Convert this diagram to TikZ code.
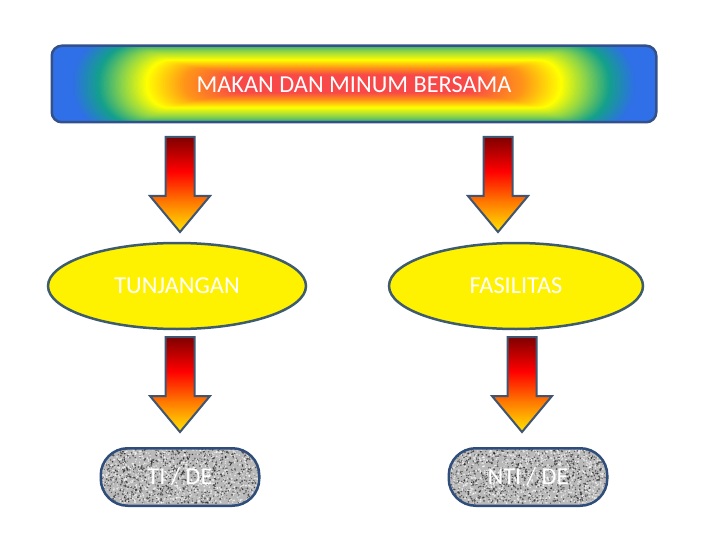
\documentclass[tikz,border=0pt]{standalone}
\usepackage{fontspec}
\setmainfont{Carlito}
\usetikzlibrary{shapes.geometric,calc}
\definecolor{barblue}{HTML}{2F6FE8}
\definecolor{barteal}{HTML}{14A08C}
\definecolor{bargreen}{HTML}{8CD44A}
\definecolor{baryellow}{HTML}{FFFF00}
\definecolor{barorange}{HTML}{FF9418}
\definecolor{barred}{HTML}{F84848}
\definecolor{barline}{HTML}{34508A}
\definecolor{arrline}{HTML}{3F5572}
\definecolor{elline}{HTML}{3E5C6E}
\definecolor{boxline}{HTML}{2F4D7A}
\pgfdeclareverticalshading{arrshade}{100bp}{%
  color(0bp)=(yellow!80!orange);
  color(25bp)=(yellow!80!orange);
  color(40bp)=(orange);
  color(57bp)=(red);
  color(75bp)=(red!50!black);
  color(100bp)=(red!50!black)}
\tikzset{
  x=1pt,y=-1pt,
  txt/.style={text=white,font=\fontsize{24.3}{28}\selectfont},
  barbox/.style={draw=barline,line width=2.5pt,rounded corners=10pt,minimum width=602pt,minimum height=74pt,inner sep=0pt},
  ellbox/.style={ellipse,draw=elline,line width=2.5pt,fill=yellow,inner sep=0pt},
  stadium/.style={draw=boxline,line width=2.5pt,rounded corners=27pt,minimum width=156pt,minimum height=55pt,inner sep=0pt},
  blockarrow/.pic={
    \shade[shading=arrshade,draw=arrline,line width=2pt,line join=miter]
      (-14.5,0) -- (14.5,0) -- (14.5,59) -- (30,59) -- (0,95) -- (-30,59) -- (-14.5,59) -- cycle;
  }
}
\newcommand{\granite}[1]{%
  \begin{scope}
    \clip[rounded corners=27pt] (#1.south west) rectangle (#1.north east);
    \fill[gray!55] (#1.south west) rectangle (#1.north east);
    \foreach \i in {1,...,1000}{%
      \pgfmathsetmacro{\rx}{rnd}\pgfmathsetmacro{\ry}{rnd}\pgfmathsetmacro{\rr}{0.5+0.6*rnd}%
      \fill[gray!20!black,opacity=0.6] ($(#1.north west)!\rx!(#1.north east) + (0,{\ry*55})$) circle (\rr pt);}
    \foreach \i in {1,...,1000}{%
      \pgfmathsetmacro{\rx}{rnd}\pgfmathsetmacro{\ry}{rnd}\pgfmathsetmacro{\rr}{0.5+0.6*rnd}%
      \fill[white,opacity=0.65] ($(#1.north west)!\rx!(#1.north east) + (0,{\ry*55})$) circle (\rr pt);}
  \end{scope}}
\begin{document}
\begin{tikzpicture}
\pgfmathsetseed{7}
\useasboundingbox (0,0) rectangle (720,540);
% top bar
\node[barbox] (top) at (354,84) {};
\begin{scope}
  \clip[rounded corners=10pt] (top.south west) rectangle (top.north east);
  \fill[barblue] (top.south west) rectangle (top.north east);
  \foreach \wa/\ha/\ca/\wb/\hb/\cb in {
      282/50/barblue/256/40/barteal,
      256/40/barteal/232/33/bargreen,
      232/33/bargreen/208/24/baryellow,
      208/24/baryellow/170/16/barorange,
      170/16/barorange/120/9/barred,
      120/9/barred/60/4/barred}{%
    \foreach \k in {0,...,19}{%
      \pgfmathsetmacro{\w}{\wa+(\wb-\wa)*\k/20}%
      \pgfmathsetmacro{\h}{\ha+(\hb-\ha)*\k/20}%
      \pgfmathsetmacro{\p}{100*\k/20}%
      \fill[\cb!\p!\ca,rounded corners=\h*0.95pt] ($(top.center)+(-\w,-\h)$) rectangle ($(top.center)+(\w,\h)$);}}
\end{scope}
\draw[barline,line width=2.5pt,rounded corners=10pt] (top.south west) rectangle (top.north east);
\node[txt] (toptxt) at (354,85) {MAKAN DAN MINUM BERSAMA};
% ellipses
\node[ellbox,minimum width=258pt,minimum height=86pt] (tun) at (177,286) {};
\node[txt] at (tun.center) {TUNJANGAN};
\node[ellbox,minimum width=254pt,minimum height=86pt] (fas) at (516,286) {};
\node[txt] at (fas.center) {FASILITAS};
% bottom boxes
\node[stadium] (ti) at (180,477) {};
\granite{ti}
\draw[boxline,line width=2.5pt,rounded corners=27pt] (ti.south west) rectangle (ti.north east);
\node[txt] at (ti.center) {TI / DE};
\node[stadium] (nti) at (528,477) {};
\granite{nti}
\draw[boxline,line width=2.5pt,rounded corners=27pt] (nti.south west) rectangle (nti.north east);
\node[txt] at (nti.center) {NTI / DE};
% arrows
\coordinate (a1) at (180,137);
\coordinate (a2) at (498,137);
\coordinate (a3) at (180,337);
\coordinate (a4) at (522,337);
\pic at (a1) {blockarrow};
\pic at (a2) {blockarrow};
\pic at (a3) {blockarrow};
\pic at (a4) {blockarrow};
\end{tikzpicture}
\end{document}
